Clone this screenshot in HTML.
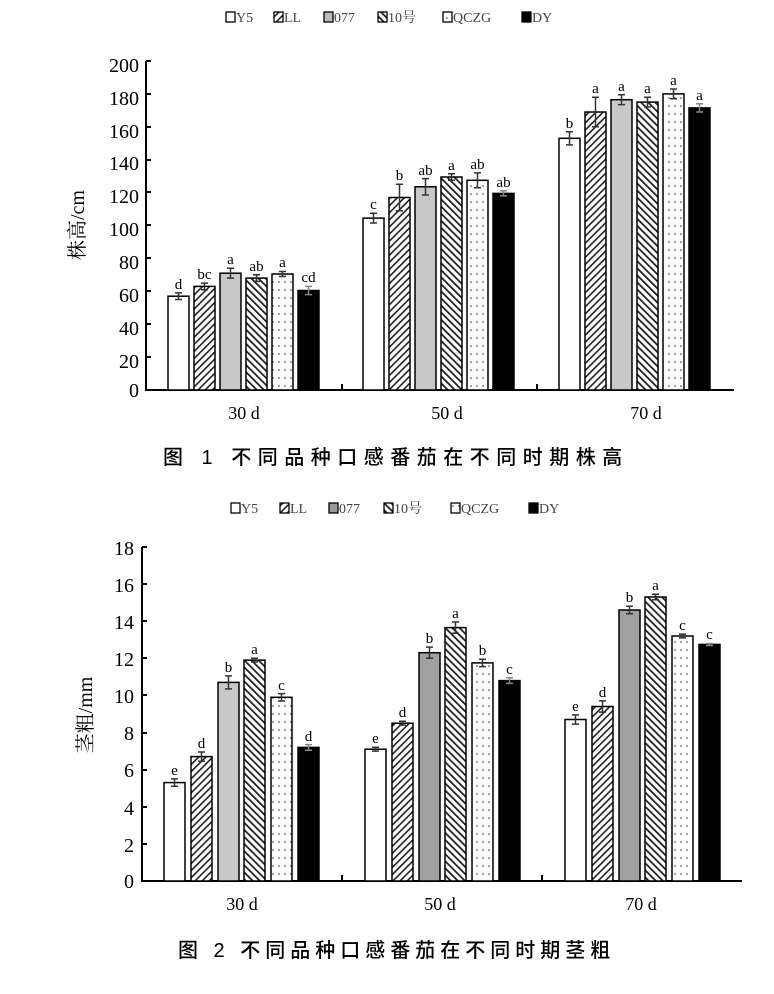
<!DOCTYPE html><html><head><meta charset="utf-8"><style>body{margin:0;background:#fff}svg{display:block}</style></head><body>
<svg width="774" height="994" xmlns="http://www.w3.org/2000/svg" font-family="Liberation Serif, Noto Serif CJK SC, serif">
<defs>
<pattern id="fw" width="5" height="5" patternUnits="userSpaceOnUse" patternTransform="rotate(45)"><rect width="5" height="5" fill="#fff"/><rect width="1.6" height="5" fill="#222"/></pattern>
<pattern id="bw" width="5" height="5" patternUnits="userSpaceOnUse" patternTransform="rotate(-45)"><rect width="5" height="5" fill="#fff"/><rect width="1.8" height="5" fill="#222"/></pattern>
<pattern id="dt" width="6" height="8" patternUnits="userSpaceOnUse"><rect width="6" height="8" fill="#fff"/><circle cx="3" cy="2" r="0.8" fill="#333"/></pattern>
</defs>
<g font-size="14" fill="#444">
<g stroke="#000" stroke-width="1.3">
<rect x="226" y="12" width="9" height="10" fill="#fff"/><rect x="274" y="12" width="9" height="10" fill="url(#fw)"/><rect x="324" y="12" width="9" height="10" fill="#bbb"/><rect x="378" y="12" width="9" height="10" fill="url(#bw)"/><rect x="443" y="12" width="9" height="10" fill="url(#dt)"/><rect x="522" y="12" width="9" height="10" fill="#000"/>
</g>
<text x="236" y="22">Y5</text><text x="284" y="22">LL</text><text x="334" y="22">077</text><text x="388" y="22">10号</text><text x="453" y="22">QCZG</text><text x="532" y="22">DY</text>
</g>
<g font-size="20" text-anchor="end">
<text x="139" y="72">200</text><text x="139" y="105">180</text><text x="139" y="138">160</text><text x="139" y="170">140</text><text x="139" y="203">120</text><text x="139" y="236">100</text><text x="139" y="269">80</text><text x="139" y="302">60</text><text x="139" y="335">40</text><text x="139" y="368">20</text><text x="139" y="397">0</text>
</g>
<text transform="translate(84,225) rotate(-90)" font-size="20" text-anchor="middle">株高/cm</text>
<g stroke="#000" stroke-width="2" fill="none"><path d="M146 61V390H734M146 61h5M146 94h5M146 127h5M146 160h5M146 192h5M146 225h5M146 258h5M146 291h5M146 324h5M146 357h5M342 390v-6M537 390v-6"/></g>
<g stroke="#000" stroke-width="1.5">
<rect x="168" y="296.2" width="21" height="93.8" fill="#fff"/><rect x="194" y="286.4" width="21" height="103.6" fill="url(#fw)"/><rect x="220" y="273.2" width="21" height="116.8" fill="#c8c8c8"/><rect x="246" y="278.1" width="21" height="111.9" fill="url(#bw)"/><rect x="272" y="274" width="21" height="116" fill="url(#dt)"/><rect x="298" y="290.5" width="21" height="99.5" fill="#000"/>
<rect x="363" y="218.1" width="21" height="171.9" fill="#fff"/><rect x="389" y="197.5" width="21" height="192.5" fill="url(#fw)"/><rect x="415" y="186.8" width="21" height="203.2" fill="#c8c8c8"/><rect x="441" y="177" width="21" height="213" fill="url(#bw)"/><rect x="467" y="180.3" width="21" height="209.7" fill="url(#dt)"/><rect x="493" y="193.4" width="21" height="196.6" fill="#000"/>
<rect x="559" y="138.3" width="21" height="251.7" fill="#fff"/><rect x="585" y="112" width="21" height="278" fill="url(#fw)"/><rect x="611" y="99.7" width="21" height="290.3" fill="#c8c8c8"/><rect x="637" y="102.1" width="21" height="287.9" fill="url(#bw)"/><rect x="663" y="93.9" width="21" height="296.1" fill="url(#dt)"/><rect x="689" y="107.9" width="21" height="282.1" fill="#000"/>
</g>
<g stroke="#333" stroke-width="1.5" fill="none">
<path d="M178.5 292.9v6.6M175 292.9h7M175 299.5h7"/><path d="M204.5 283.1v6.6M201 283.1h7M201 289.7h7"/><path d="M230.5 268.3v9.8M227 268.3h7M227 278.1h7"/><path d="M256.5 274.8v6.6M253 274.8h7M253 281.4h7"/><path d="M282.5 271.5v5M279 271.5h7M279 276.5h7"/><path d="M308.5 286.4v8.2M305 286.4h7M305 294.6h7" stroke="#888"/>
<path d="M373.5 213.2v9.8M370 213.2h7M370 223h7"/><path d="M399.5 184.3v26.4M396 184.3h7M396 210.7h7"/><path d="M425.5 178.6v16.4M422 178.6h7M422 195h7"/><path d="M451.5 173.7v6.6M448 173.7h7M448 180.3h7"/><path d="M477.5 172.9v14.8M474 172.9h7M474 187.7h7"/><path d="M503.5 190.9v5M500 190.9h7M500 195.9h7" stroke="#888"/>
<path d="M569.5 131.7v13.2M566 131.7h7M566 144.9h7"/><path d="M595.5 97.2v29.6M592 97.2h7M592 126.8h7"/><path d="M621.5 94.8v9.8M618 94.8h7M618 104.6h7"/><path d="M647.5 97.2v9.8M644 97.2h7M644 107h7"/><path d="M673.5 89v9.8M670 89h7M670 98.8h7"/><path d="M699.5 103.8v8.2M696 103.8h7M696 112h7" stroke="#888"/>
</g>
<g font-size="15" text-anchor="middle">
<text x="178.5" y="289">d</text><text x="204.5" y="279">bc</text><text x="230.5" y="264">a</text><text x="256.5" y="271">ab</text><text x="282.5" y="267">a</text><text x="308.5" y="282">cd</text>
<text x="373.5" y="209">c</text><text x="399.5" y="180">b</text><text x="425.5" y="175">ab</text><text x="451.5" y="170">a</text><text x="477.5" y="169">ab</text><text x="503.5" y="187">ab</text>
<text x="569.5" y="128">b</text><text x="595.5" y="93">a</text><text x="621.5" y="91">a</text><text x="647.5" y="93">a</text><text x="673.5" y="85">a</text><text x="699.5" y="100">a</text>
</g>
<g font-size="18" text-anchor="middle"><text x="244" y="419">30 d</text><text x="447" y="419">50 d</text><text x="646" y="419">70 d</text></g>
<text x="163" y="464" font-size="20" font-family="Liberation Sans, Noto Sans CJK SC, sans-serif" font-weight="500" letter-spacing="6.5">图 1  不同品种口感番茄在不同时期株高</text>

<g font-size="14" fill="#444">
<g stroke="#000" stroke-width="1.3">
<rect x="231" y="503" width="9" height="10" fill="#fff"/><rect x="280" y="503" width="9" height="10" fill="url(#fw)"/><rect x="329" y="503" width="9" height="10" fill="#999"/><rect x="384" y="503" width="9" height="10" fill="url(#bw)"/><rect x="451" y="503" width="9" height="10" fill="url(#dt)"/><rect x="529" y="503" width="9" height="10" fill="#000"/>
</g>
<text x="241" y="513">Y5</text><text x="290" y="513">LL</text><text x="339" y="513">077</text><text x="394" y="513">10号</text><text x="461" y="513">QCZG</text><text x="539" y="513">DY</text>
</g>
<g font-size="20" text-anchor="end">
<text x="134" y="555">18</text><text x="134" y="592">16</text><text x="134" y="629">14</text><text x="134" y="666">12</text><text x="134" y="703">10</text><text x="134" y="740">8</text><text x="134" y="777">6</text><text x="134" y="815">4</text><text x="134" y="852">2</text><text x="134" y="888">0</text>
</g>
<text transform="translate(92,715) rotate(-90)" font-size="20" text-anchor="middle">茎粗/mm</text>
<g stroke="#000" stroke-width="2" fill="none"><path d="M142 547V881H742M142 547h5M142 584h5M142 621h5M142 658h5M142 695h5M142 733h5M142 770h5M142 807h5M142 844h5M342 881v-6M542 881v-6"/></g>
<g stroke="#000" stroke-width="1.5">
<rect x="164" y="782.6" width="21" height="98.4" fill="#fff"/><rect x="191" y="756.6" width="21" height="124.4" fill="url(#fw)"/><rect x="218" y="682.4" width="21" height="198.6" fill="#c8c8c8"/><rect x="244" y="660.1" width="21" height="220.9" fill="url(#bw)"/><rect x="271" y="697.3" width="21" height="183.7" fill="url(#dt)"/><rect x="298" y="747.4" width="21" height="133.6" fill="#000"/>
<rect x="365" y="749.2" width="21" height="131.8" fill="#fff"/><rect x="392" y="723.2" width="21" height="157.8" fill="url(#fw)"/><rect x="419" y="652.7" width="21" height="228.3" fill="#a0a0a0"/><rect x="445" y="627.6" width="21" height="253.4" fill="url(#bw)"/><rect x="472" y="662.9" width="21" height="218.1" fill="url(#dt)"/><rect x="499" y="680.6" width="21" height="200.4" fill="#000"/>
<rect x="565" y="719.5" width="21" height="161.5" fill="#fff"/><rect x="592" y="706.5" width="21" height="174.5" fill="url(#fw)"/><rect x="619" y="610" width="21" height="271" fill="#a0a0a0"/><rect x="645" y="597" width="21" height="284" fill="url(#bw)"/><rect x="672" y="636" width="21" height="245" fill="url(#dt)"/><rect x="699" y="644.4" width="21" height="236.6" fill="#000"/>
</g>
<g stroke="#333" stroke-width="1.5" fill="none">
<path d="M174.5 778.9v7.4M171 778.9h7M171 786.3h7"/><path d="M201.5 752v9.2M198 752h7M198 761.2h7"/><path d="M228.5 675.9v13M225 675.9h7M225 688.9h7"/><path d="M254.5 658.2v3.8M251 658.2h7M251 662h7"/><path d="M281.5 693.6v7.4M278 693.6h7M278 701h7"/><path d="M308.5 744.6v5.6M305 744.6h7M305 750.2h7" stroke="#888"/>
<path d="M375.5 747.3v3.8M372 747.3h7M372 751.1h7"/><path d="M402.5 721.3v3.8M399 721.3h7M399 725.1h7"/><path d="M429.5 647.1v11.2M426 647.1h7M426 658.3h7"/><path d="M455.5 622v11.2M452 622h7M452 633.2h7"/><path d="M482.5 659.2v7.4M479 659.2h7M479 666.6h7"/><path d="M509.5 677.8v5.6M506 677.8h7M506 683.4h7" stroke="#888"/>
<path d="M575.5 714.9v9.2M572 714.9h7M572 724.1h7"/><path d="M602.5 700.9v11.2M599 700.9h7M599 712.1h7"/><path d="M629.5 606.3v7.4M626 606.3h7M626 613.7h7"/><path d="M655.5 594.2v5.6M652 594.2h7M652 599.8h7"/><path d="M682.5 634.1v3.8M679 634.1h7M679 637.9h7"/><path d="M709.5 643.5v2M706 643.5h7M706 645.5h7" stroke="#888"/>
</g>
<g font-size="15" text-anchor="middle">
<text x="174.5" y="775">e</text><text x="201.5" y="748">d</text><text x="228.5" y="672">b</text><text x="254.5" y="654">a</text><text x="281.5" y="690">c</text><text x="308.5" y="741">d</text>
<text x="375.5" y="743">e</text><text x="402.5" y="717">d</text><text x="429.5" y="643">b</text><text x="455.5" y="618">a</text><text x="482.5" y="655">b</text><text x="509.5" y="674">c</text>
<text x="575.5" y="711">e</text><text x="602.5" y="697">d</text><text x="629.5" y="602">b</text><text x="655.5" y="590">a</text><text x="682.5" y="630">c</text><text x="709.5" y="639">c</text>
</g>
<g font-size="18" text-anchor="middle"><text x="242" y="910">30 d</text><text x="440" y="910">50 d</text><text x="641" y="910">70 d</text></g>
<text x="178" y="957" font-size="20" font-family="Liberation Sans, Noto Sans CJK SC, sans-serif" font-weight="500" letter-spacing="5">图 2  不同品种口感番茄在不同时期茎粗</text>
</svg>
</body></html>
